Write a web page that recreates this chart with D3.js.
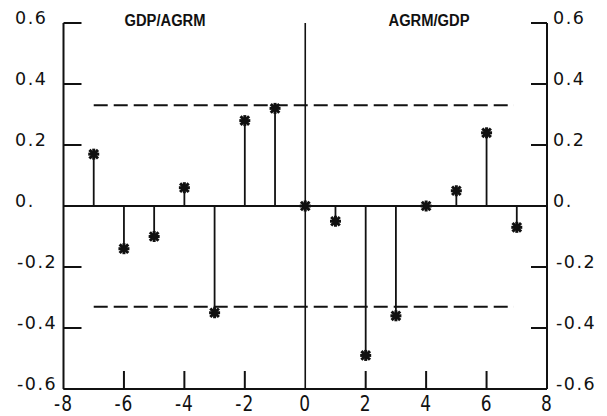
<!DOCTYPE html>
<html><head><meta charset="utf-8">
<script src="https://cdn.jsdelivr.net/npm/d3@7"></script>
<style>body{margin:0;background:#fff}svg{display:block}</style>
</head><body><svg id="c" width="607" height="416"></svg>
<script>
const lags = [-7,-6,-5,-4,-3,-2,-1,0,1,2,3,4,5,6,7];
const values = [0.17,-0.14,-0.10,0.06,-0.35,0.28,0.32,0.0,-0.05,-0.49,-0.36,0.0,0.05,0.24,-0.07];
const bandLimit = 0.33;
const xTicks = [-8,-6,-4,-2,0,2,4,6,8];
const yTicks = [0.6,0.4,0.2,0,-0.2,-0.4,-0.6];
const yTickLabels = ["0.6","0.4","0.2","0.","-0.2","-0.4","-0.6"];
const leftTitle = "GDP/AGRM", rightTitle = "AGRM/GDP";

const svg = d3.select("#c");
const x = d3.scaleLinear().domain([-8,8]).range([63.5,547]);
const y = d3.scaleLinear().domain([-0.6,0.6]).range([389,23]);
const ink = "#111";
const g = svg.append("g").attr("stroke",ink).attr("fill","none");

// axes lines
g.append("line").attr("x1",x(-8)).attr("x2",x(-8)).attr("y1",y(0.6)).attr("y2",y(-0.6)).attr("stroke-width",2);
g.append("line").attr("x1",x(8)).attr("x2",x(8)).attr("y1",y(0.6)).attr("y2",y(-0.6)).attr("stroke-width",2);
g.append("line").attr("x1",x(-8)).attr("x2",x(8)).attr("y1",y(-0.6)).attr("y2",y(-0.6)).attr("stroke-width",2);
g.append("line").attr("x1",x(0)).attr("x2",x(0)).attr("y1",y(0.6)).attr("y2",y(-0.6)).attr("stroke-width",1.6);
g.append("line").attr("x1",x(-8)).attr("x2",x(8)).attr("y1",y(0)).attr("y2",y(0)).attr("stroke-width",2);

// y ticks (inward)
yTicks.forEach(t=>{
  g.append("line").attr("x1",x(-8)).attr("x2",x(-8)+18).attr("y1",y(t)).attr("y2",y(t)).attr("stroke-width",2);
  g.append("line").attr("x1",x(8)).attr("x2",x(8)-16).attr("y1",y(t)).attr("y2",y(t)).attr("stroke-width",2);
});
// x ticks (inward)
xTicks.filter(t=>t!==0 && Math.abs(t)!==8).forEach(t=>{
  g.append("line").attr("x1",x(t)).attr("x2",x(t)).attr("y1",y(-0.6)).attr("y2",y(-0.6)-18).attr("stroke-width",2);
});

// dashed bands
[bandLimit,-bandLimit].forEach(v=>{
  g.append("line").attr("x1",x(-7)).attr("x2",x(6.9)).attr("y1",y(v)).attr("y2",y(v))
   .attr("stroke-width",2).attr("stroke-dasharray","14,6");
});

// stems
lags.forEach((l,i)=>{
  g.append("line").attr("x1",x(l)).attr("x2",x(l)).attr("y1",y(0)).attr("y2",y(values[i])).attr("stroke-width",1.8);
});
// markers
const r = 5.5;
lags.forEach((l,i)=>{
  const cx=x(l), cy=y(values[i]);
  const m = g.append("g").attr("stroke-width",3);
  m.append("line").attr("x1",cx-r).attr("x2",cx+r).attr("y1",cy).attr("y2",cy);
  m.append("line").attr("x1",cx).attr("x2",cx).attr("y1",cy-r).attr("y2",cy+r);
  m.append("line").attr("x1",cx-r*0.78).attr("x2",cx+r*0.78).attr("y1",cy-r*0.78).attr("y2",cy+r*0.78);
  m.append("line").attr("x1",cx-r*0.78).attr("x2",cx+r*0.78).attr("y1",cy+r*0.78).attr("y2",cy-r*0.78);
});

const font = "'DejaVu Sans', sans-serif";
const t = svg.append("g").attr("fill",ink).attr("font-family",font).attr("font-size",17.5).attr("letter-spacing","1.5px");
yTicks.forEach((v,i)=>{
  const neg = v < 0;
  t.append("text").attr("x",neg?17:15).attr("y",y(v)+1).attr("text-anchor","start").text(yTickLabels[i]);
  t.append("text").attr("x",neg?556:553).attr("y",y(v)+1).attr("text-anchor","start").text(yTickLabels[i]);
});
xTicks.forEach(v=>{
  t.append("text").attr("transform",`translate(${x(v)},411) scale(1,1.2)`).attr("text-anchor","middle").attr("letter-spacing","1px").attr("font-size",17).text(v);
});
const tt = svg.append("g").attr("fill",ink).attr("font-family","'Liberation Sans',Arial,sans-serif").attr("font-size",16).attr("font-weight","bold");
tt.append("text").attr("x",165).attr("y",26).attr("text-anchor","middle").attr("textLength",81).attr("lengthAdjust","spacingAndGlyphs").text(leftTitle);
tt.append("text").attr("x",429).attr("y",26).attr("text-anchor","middle").attr("textLength",81).attr("lengthAdjust","spacingAndGlyphs").text(rightTitle);
</script></body></html>
